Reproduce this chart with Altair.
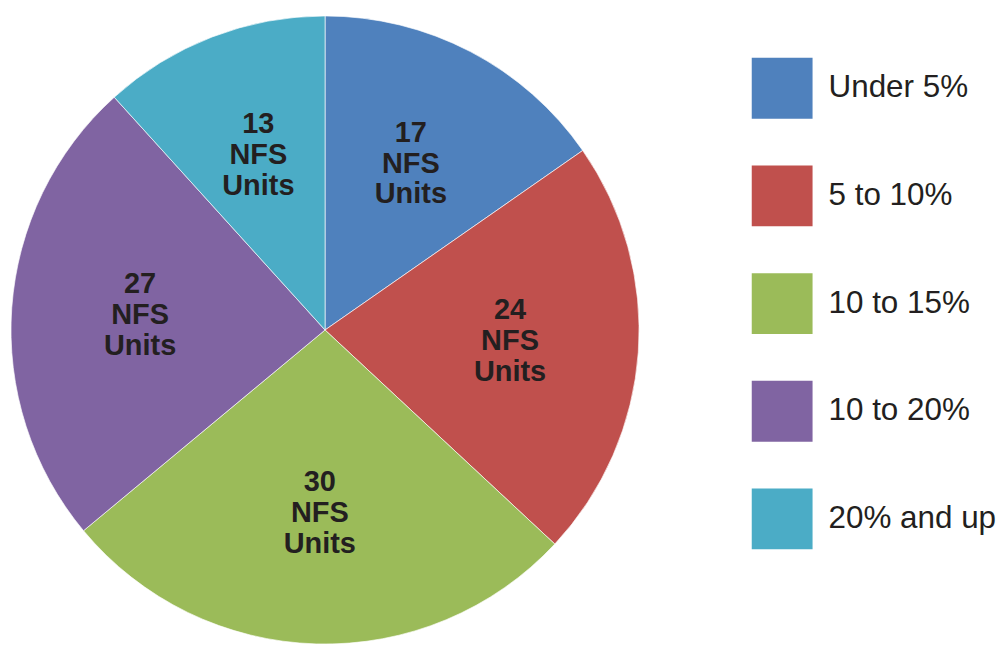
import altair as alt
import pandas as pd

categories = ["Under 5%", "5 to 10%", "10 to 15%", "10 to 20%", "20% and up"]
units = [17, 24, 30, 27, 13]
colors = ["#4F81BD", "#C0504D", "#9BBB59", "#8064A2", "#4BACC6"]

df = pd.DataFrame({
    "category": categories,
    "units": units,
    "order": list(range(len(categories))),
})
df["label"] = df["units"].astype(str) + "\nNFS\nUnits"

cx, cy, r = 318, 322, 315

base = alt.Chart(df).encode(
    theta=alt.Theta("units:Q", stack=True),
    order=alt.Order("order:Q"),
)

pie = base.mark_arc(
    radius=r, stroke="white", strokeWidth=0.8, strokeOpacity=0.8
).encode(
    x=alt.value(cx),
    y=alt.value(cy),
    color=alt.Color(
        "category:N",
        scale=alt.Scale(domain=categories, range=colors),
        sort=categories,
        legend=alt.Legend(
            title=None,
            orient="none",
            legendX=746,
            legendY=49,
            symbolType="square",
            symbolSize=3721,
            symbolStrokeWidth=0,
            symbolOpacity=1,
            labelFontSize=31.5,
            labelFont="Liberation Sans",
            labelColor="#231F20",
            labelOffset=16,
            rowPadding=47,
            padding=0,
            labelLimit=300,
        ),
    ),
)

text = base.mark_text(
    radius=186,
    dy=-33,
    font="Liberation Sans",
    fontWeight="bold",
    fontSize=29,
    lineHeight=31,
    lineBreak="\n",
    color="#231F20",
    baseline="middle",
    align="center",
).encode(
    x=alt.value(cx),
    y=alt.value(cy),
    text="label:N",
)

chart = (pie + text).properties(
    width=989, height=632, padding=0
).configure_view(stroke=None)

chart.save("out.html", embed_options={"renderer": "svg", "actions": False})
